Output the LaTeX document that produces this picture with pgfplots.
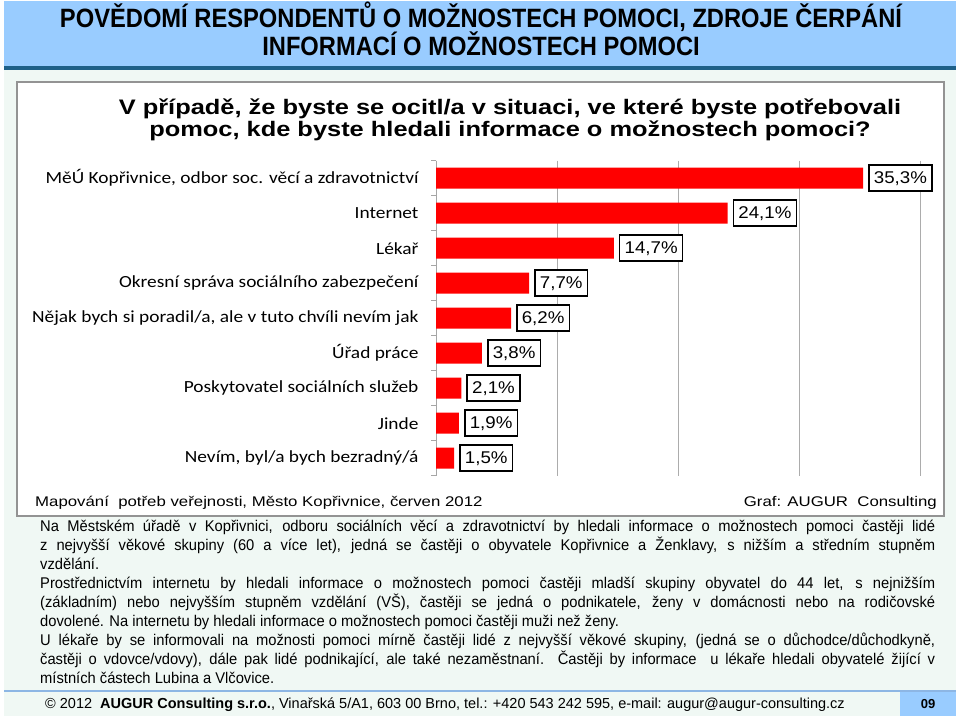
\documentclass[border=0pt]{standalone}
\usepackage{fontspec}
\setmainfont{Liberation Sans}
\newfontfamily\headfont[FakeStretch=0.895]{Liberation Sans}
\newfontfamily\bodyfont[FakeStretch=0.95]{Liberation Sans}
\newfontfamily\chartfont[FakeStretch=1.21]{Liberation Sans}
\newfontfamily\notefont[FakeStretch=1.2]{Liberation Sans}
\newfontfamily\labelfont[FakeStretch=1.1]{Liberation Sans}
\newfontfamily\calfont[FakeStretch=1.14]{Carlito}
\usepackage{pgfplots}
\pgfplotsset{compat=1.18}

\definecolor{headblue}{RGB}{153,204,255}
\definecolor{darkline}{RGB}{30,96,136}
\definecolor{mint}{RGB}{240,248,244}
\definecolor{sepblue}{RGB}{141,182,228}
\definecolor{barred}{RGB}{255,0,0}

\begin{document}
\begin{tikzpicture}
\begin{scope}[x=1pt,y=1pt]
% page frame
\path[use as bounding box] (0,0) rectangle (960,716);
\fill[white] (0,0) rectangle (960,716);
\fill[mint] (4,0) rectangle (956,647);
\fill[headblue] (4,649) rectangle (956,715);
\fill[darkline] (4,646) rectangle (956,649.5);

% slide title
\node[anchor=base, inner sep=0] at (481,688)
  {\fontsize{26.5}{28}\headfont\bfseries POVĚDOMÍ RESPONDENTŮ O MOŽNOSTECH POMOCI, ZDROJE ČERPÁNÍ};
\node[anchor=base, inner sep=0] at (481,660)
  {\fontsize{26.5}{28}\headfont\bfseries INFORMACÍ O MOŽNOSTECH POMOCI};

% chart box
\draw[gray!85, line width=2pt, fill=white] (17,200) rectangle (944,634);
\node[anchor=base, inner sep=0] at (510,601)
  {\fontsize{21}{22}\chartfont\bfseries V případě, že byste se ocitl/a v situaci, ve které byste potřebovali};
\node[anchor=base, inner sep=0] at (510,579)
  {\fontsize{21}{22}\chartfont\bfseries pomoc, kde byste hledali informace o možnostech pomoci?};
\end{scope}

\begin{axis}[
    at={(436pt,240.3pt)}, anchor=south west,
    scale only axis,
    width=484pt, height=315pt,
    xbar, bar width=21pt,
    xmin=0, xmax=40,
    ymin=-0.5, ymax=8.5,
    y dir=reverse,
    enlargelimits=false,
    clip=false,
    axis y line=left,
    axis x line=bottom,
    axis line style={-, draw=gray!70, line width=0.8pt},
    x axis line style={draw=none},
    xtick={0,10,20,30,40},
    xticklabels={},
    xmajorgrids,
    grid style={gray!65, line width=0.8pt},
    ytick={0,...,8},
    yticklabels={{MěÚ Kopřivnice, odbor soc. věcí a zdravotnictví},
      {Internet}, {Lékař}, {Okresní správa sociálního zabezpečení},
      {Nějak bych si poradil/a, ale v tuto chvíli nevím jak},
      {Úřad práce}, {Poskytovatel sociálních služeb}, {Jinde},
      {Nevím, byl/a bych bezradný/á}},
    yticklabel style={font=\fontsize{17}{18}\calfont, anchor=east, xshift=-14pt},
    minor ytick={-0.5,0.5,...,8.5},
    major tick length=0pt,
    minor tick length=5pt,
    tick align=outside,
    minor tick style={draw=gray!70, line width=0.8pt},
    nodes near coords={\pgfmathprintnumber{\pgfplotspointmeta}\%},
    /pgf/number format/.cd, fixed, fixed zerofill, precision=1, use comma, assume math mode=true,
    /pgfplots/.cd,
    nodes near coords style={anchor=west, xshift=5pt, draw=black, line width=1.6pt,
      fill=white, inner xsep=5pt, inner ysep=4pt, minimum height=26pt,
      font=\fontsize{17}{19}\labelfont},
]
\addplot[fill=barred, draw=none] coordinates {
  (35.3,0) (24.1,1) (14.7,2) (7.7,3) (6.2,4) (3.8,5) (2.1,6) (1.9,7) (1.5,8)
};
\end{axis}

\begin{scope}[x=1pt,y=1pt]
% chart source lines
\node[anchor=base west, inner sep=0] at (35,210)
  {\fontsize{14}{16}\notefont Mapování\ \ potřeb veřejnosti, Město Kopřivnice, červen 2012};
\node[anchor=base east, inner sep=0] at (937,210)
  {\fontsize{14}{16}\notefont Graf: AUGUR\ \ Consulting};

% commentary
\node[anchor=base west, inner sep=0] at (40,185) {\parbox[t]{895pt}{%
  \fontsize{15.5}{19.1}\bodyfont\parindent=0pt\parfillskip=0pt plus 1fil
  Na Městském úřadě v Kopřivnici, odboru sociálních věcí a zdravotnictví by hledali informace o možnostech pomoci častěji lidé\linebreak
  z nejvyšší věkové skupiny (60 a více let), jedná se častěji o obyvatele Kopřivnice a Ženklavy, s nižším a středním stupněm\linebreak
  vzdělání.\par
  Prostřednictvím internetu by hledali informace o možnostech pomoci častěji mladší skupiny obyvatel do 44 let, s nejnižším\linebreak
  (základním) nebo nejvyšším stupněm vzdělání (VŠ), častěji se jedná o podnikatele, ženy v domácnosti nebo na rodičovské\linebreak
  dovolené. Na internetu by hledali informace o možnostech pomoci častěji muži než ženy.\par
  U lékaře by se informovali na možnosti pomoci mírně častěji lidé z nejvyšší věkové skupiny, (jedná se o důchodce/důchodkyně,\linebreak
  častěji o vdovce/vdovy), dále pak lidé podnikající, ale také nezaměstnaní. Častěji by informace\ \ u lékaře hledali obyvatelé žijící v\linebreak
  místních částech Lubina a Vlčovice.}};

% footer
\draw[sepblue, line width=2.5pt] (4,25) -- (956,25);
\fill[headblue] (900,0) rectangle (956,24);
\node[anchor=base west, inner sep=0] at (45,8)
  {\fontsize{14.5}{16}\selectfont © 2012\ \ \textbf{AUGUR Consulting s.r.o.}, Vinařská 5/A1, 603 00 Brno, tel.: +420 543 242 595, e-mail: augur@augur-consulting.cz};
\node[anchor=base, inner sep=0] at (928,8) {\fontsize{13}{15}\selectfont\bfseries 09};
\end{scope}
\end{tikzpicture}
\end{document}
